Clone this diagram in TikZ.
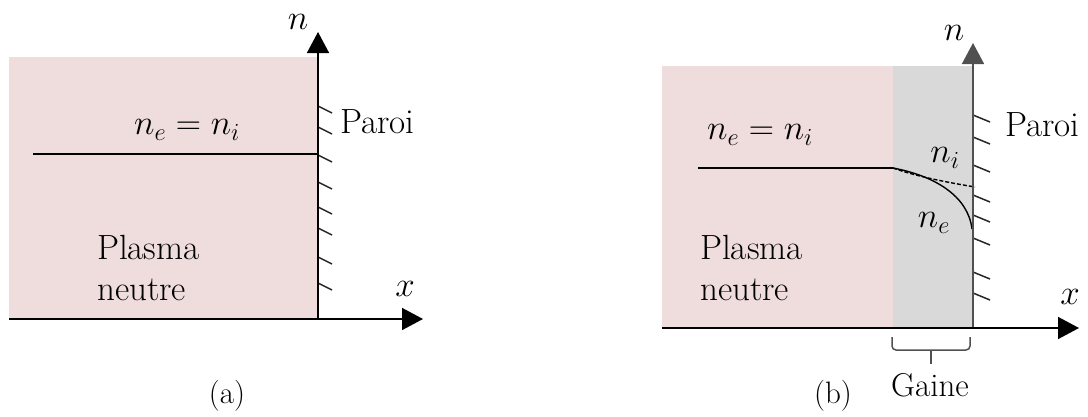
\RequirePackage{fix-cm}
\documentclass[tikz,border=0pt]{standalone}
\usetikzlibrary{arrows.meta}
\definecolor{plasma}{HTML}{EFDCDC}
\definecolor{gaine}{HTML}{D9D9D9}
\definecolor{axgray}{HTML}{505050}
\begin{document}
\begin{tikzpicture}[x=1pt,y=-1pt,
  axis/.style={line width=1.6pt,-{Triangle[length=21pt,width=22pt]}},
  hatch/.style={line width=1.5pt,black!85},
  lbl/.style={inner sep=0pt,font=\rmfamily\fontsize{35}{41}\selectfont},
  mlbl/.style={inner sep=0pt,font=\fontsize{35}{41}\selectfont},
  sublbl/.style={inner sep=0pt,font=\rmfamily\fontsize{31}{36}\selectfont},
  curve/.style={line width=1.4pt}]
\useasboundingbox (0,0) rectangle (1088,416);
% ---------------- panel (a)
\fill[plasma] (9,57) rectangle (318,319);
\coordinate (aO) at (318,319);
\coordinate (aN) at (318,32);
\coordinate (aX) at (423,319);
\coordinate (aL) at (9,319);
\coordinate (aH1) at (33,154);
\coordinate (aH2) at (318,154);
\draw[curve] (aH1) -- (aH2);
\foreach \y in {106,127,155,182,207,228,257,283}
  \draw[hatch] (318,\y) -- ++(14,7);
\draw[axis] (aO) -- (aN);
\draw[axis] (aL) -- (aX);
\node[mlbl] (an) at (298,22) {$n$};
\node[mlbl] (ax) at (405,289) {$x$};
\node[mlbl] (aeq) at (187,130) {$n_e = n_i$};
\node[lbl,anchor=west] (apar) at (340,122) {Paroi};
\node[lbl,anchor=west,align=left] (apl) at (97,268) {Plasma\\neutre};
\node[sublbl] (alab) at (227,396) {(a)};
% ---------------- panel (b)
\fill[plasma] (662,66) rectangle (893,328);
\fill[gaine] (893,66) rectangle (973,328);
\coordinate (bO) at (973,328);
\coordinate (bN) at (973,43);
\coordinate (bX) at (1079,328);
\coordinate (bL) at (662,328);
\coordinate (bH1) at (698,168);
\coordinate (bS) at (893,168);
\coordinate (bI) at (975,187);
\coordinate (bE) at (972,229);
\draw[curve] (bH1) -- (bS);
\draw[curve,dashed,dash pattern=on 4pt off 2pt] (bS) .. controls (915,176) and (945,182) .. (bI);
\draw[curve] (bS) .. controls (935,176) and (968,196) .. (bE);
\foreach \y in {115,137,165,195,215,238,272,293}
  \draw[hatch] (973,\y) -- ++(17,7);
\draw[axis,axgray] (bO) -- (bN);
\draw[axis] (bL) -- (bX);
\node[mlbl] (bn) at (954,33) {$n$};
\node[mlbl] (bx) at (1070,297) {$x$};
\node[mlbl] (beq) at (760,135) {$n_e = n_i$};
\node[mlbl] (bni) at (945,158) {$n_i$};
\node[mlbl] (bne) at (934,223) {$n_e$};
\node[lbl,anchor=west] (bpar) at (1005,125) {Paroi};
\node[lbl,anchor=west,align=left] (bpl) at (700,268) {Plasma\\neutre};
% brace
\coordinate (bb1) at (892,337);
\coordinate (bb2) at (970,337);
\coordinate (bbm) at (931,350);
\coordinate (bbt) at (931,364);
\draw[line width=1.5pt,axgray,rounded corners=4pt] (bb1) -- (892,350) -- (970,350) -- (bb2);
\draw[line width=1.5pt,axgray] (bbm) -- (bbt);
\node[sublbl,font=\rmfamily\fontsize{33}{38}\selectfont] (gaine) at (930,385) {Gaine};
\node[sublbl] (blab) at (833,396) {(b)};
\end{tikzpicture}
\end{document}
